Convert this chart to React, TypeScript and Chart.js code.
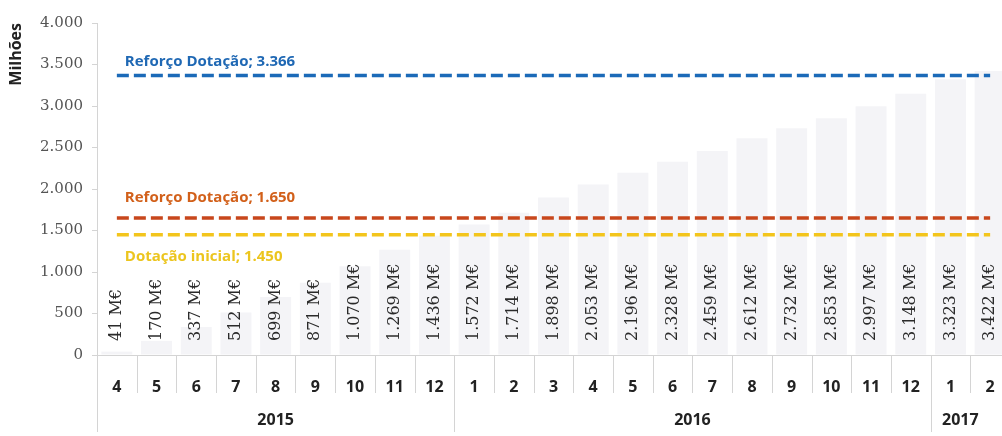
import React, { useEffect, useRef } from "react";
import { Chart, registerables } from "chart.js";

Chart.register(...registerables);

const monthLabels = ["4", "5", "6", "7", "8", "9", "10", "11", "12", "1", "2", "3", "4", "5", "6", "7", "8", "9", "10", "11", "12", "1", "2"];
const yearOfMonth = ["2015", "2015", "2015", "2015", "2015", "2015", "2015", "2015", "2015", "2016", "2016", "2016", "2016", "2016", "2016", "2016", "2016", "2016", "2016", "2016", "2016", "2017", "2017"];
const executionValues = [41, 170, 337, 512, 699, 871, 1070, 1269, 1436, 1572, 1714, 1898, 2053, 2196, 2328, 2459, 2612, 2732, 2853, 2997, 3148, 3323, 3422];

const lineNames = ["Reforço Dotação", "Reforço Dotação", "Dotação inicial"];
const lineValues = [3366, 1650, 1450];
const lineColors = ["#1b6ab8", "#c8471c", "#f3c51c"];
const lineTextColors = ["#1f68b4", "#d2601a", "#ecc51e"];
const lineLabelOffsets = [-14, -20, 22];

const yTicks = { min: 0, max: 4000, step: 500 };

const fmt = (v: number) => String(Math.round(v)).replace(/\B(?=(\d{3})+(?!\d))/g, ".");
const catIds = monthLabels.map((m, i) => `${yearOfMonth[i]}-${m}`);

const overlayPlugin = {
  id: "overlay",
  afterDatasetsDraw(chart: any) {
    const ctx = chart.ctx;
    const xs = chart.scales.x;
    const ys = chart.scales.y;
    // bar value labels
    const meta = chart.getDatasetMeta(0);
    ctx.save();
    ctx.fillStyle = "#2a2a2a";
    ctx.font = "16px 'DejaVu Serif'";
    ctx.textAlign = "left";
    ctx.textBaseline = "middle";
    meta.data.forEach((bar: any, i: number) => {
      ctx.save();
      ctx.translate(bar.x, ys.getPixelForValue(0) - 14);
      ctx.rotate(-Math.PI / 2);
      ctx.fillText(`${fmt(executionValues[i])} M€`, 0, 0);
      ctx.restore();
    });
    ctx.restore();

    // line labels
    ctx.save();
    ctx.font = "bold 15px 'Open Sans'";
    ctx.textAlign = "left";
    ctx.textBaseline = "middle";
    lineValues.forEach((v, i) => {
      const y = ys.getPixelForValue(v) + lineLabelOffsets[i];
      ctx.fillStyle = lineTextColors[i];
      ctx.fillText(`${lineNames[i]}; ${fmt(v)}`, xs.getPixelForValue(0) + 8, y);
    });
    ctx.restore();
  },
  afterDraw(chart: any) {
    const ctx = chart.ctx;
    const xs = chart.scales.x;
    const area = chart.chartArea;
    const n = monthLabels.length;
    const half = (xs.getPixelForValue(1) - xs.getPixelForValue(0)) / 2;
    ctx.save();
    ctx.strokeStyle = "#d4d4d4";
    ctx.lineWidth = 1;
    ctx.beginPath();
    ctx.moveTo(area.left + 0.5, area.bottom);
    ctx.lineTo(area.left + 0.5, area.bottom + 77);
    ctx.stroke();
    for (let i = 1; i < n; i++) {
      const x = Math.round((xs.getPixelForValue(i - 1) + xs.getPixelForValue(i)) / 2) + 0.5;
      const yearBreak = yearOfMonth[i] !== yearOfMonth[i - 1];
      ctx.beginPath();
      ctx.moveTo(x, area.bottom);
      ctx.lineTo(x, area.bottom + (yearBreak ? 77 : 38));
      ctx.stroke();
    }
    ctx.fillStyle = "#222";
    ctx.font = "bold 16px 'Open Sans'";
    ctx.textAlign = "center";
    ctx.textBaseline = "middle";
    let start = 0;
    for (let i = 1; i <= n; i++) {
      if (i === n || yearOfMonth[i] !== yearOfMonth[start]) {
        const l = xs.getPixelForValue(start) - half;
        const r = Math.min(xs.getPixelForValue(i - 1) + half, chart.width - 20);
        ctx.fillText(yearOfMonth[start], (l + r) / 2, area.bottom + 65);
        start = i;
      }
    }
    ctx.restore();
  },
};

export default function App() {
  const ref = useRef<HTMLCanvasElement>(null);
  useEffect(() => {
    if (!ref.current) return;
    const lineDatasets = lineValues.map((v, i) => ({
      type: "line" as const,
      label: lineNames[i],
      data: [
        { x: catIds[0], y: v },
        { x: catIds[catIds.length - 1], y: v },
      ],
      borderColor: lineColors[i],
      borderWidth: 3.5,
      borderDash: [12, 5],
      pointRadius: 0,
      fill: false,
      order: 0,
    }));
    const chart = new Chart(ref.current, {
      type: "bar",
      data: {
        labels: catIds,
        datasets: [
          {
            type: "bar" as const,
            label: "Execução",
            data: executionValues,
            backgroundColor: "#f4f4f7",
            categoryPercentage: 1,
            barPercentage: 0.78,
            order: 1,
          } as any,
          ...lineDatasets,
        ],
      },
      options: {
        animation: false,
        responsive: true,
        maintainAspectRatio: false,
        layout: { padding: { top: 23, left: 0, right: 0, bottom: 0 } },
        plugins: { legend: { display: false }, tooltip: { enabled: false } },
        scales: {
          x: {
            type: "category",
            offset: true,
            grid: { display: false },
            border: { display: true, color: "#d4d4d4" },
            ticks: {
              autoSkip: false,
              maxRotation: 0,
              padding: 15,
              color: "#222",
              font: { family: "'Open Sans'", size: 16, weight: "bold" },
              callback: (_v: any, i: number) => monthLabels[i],
            },
            afterFit: (s: any) => {
              s.height = 81;
            },
          },
          y: {
            min: yTicks.min,
            max: yTicks.max,
            grid: { drawOnChartArea: false, drawTicks: true, tickLength: 5, color: "#d4d4d4" },
            border: { display: true, color: "#d4d4d4" },
            ticks: {
              stepSize: yTicks.step,
              padding: 9,
              color: "#555",
              font: { family: "'DejaVu Serif'", size: 15 },
              callback: (v: any) => fmt(Number(v)),
            },
            title: {
              display: true,
              text: "Milhões",
              align: "end",
              color: "#222",
              padding: { top: 7, bottom: 0 },
              font: { family: "'Open Sans'", size: 16, weight: "bold" },
            },
            afterFit: (s: any) => {
              s.width = 97;
            },
          },
        },
      },
      plugins: [overlayPlugin],
    } as any);
    return () => chart.destroy();
  }, []);
  return (
    <div style={{ position: "fixed", left: 0, top: 0, width: 1010, height: 436, background: "#fff" }}>
      <canvas ref={ref} />
    </div>
  );
}
